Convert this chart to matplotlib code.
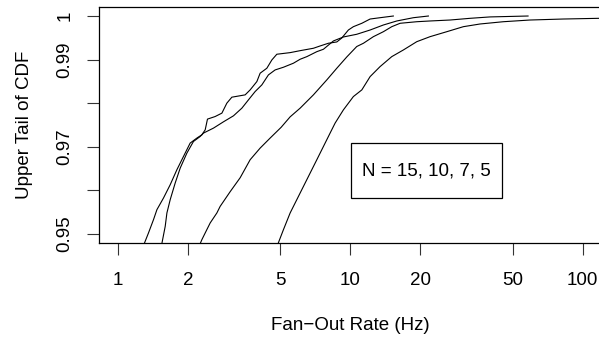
import matplotlib
matplotlib.use("Agg")
import matplotlib.pyplot as plt
from matplotlib.patches import Rectangle

plt.rcParams["font.family"] = ["Liberation Sans", "DejaVu Sans"]

# upper tail of the CDF for four group sizes
rate_n15 = [1.278, 1.354, 1.423, 1.472, 1.571, 1.679, 1.794, 1.915, 2.046, 2.187,
            2.298, 2.375, 2.429, 2.621, 2.802, 2.943, 3.093, 3.528, 3.707, 3.962,
            4.093, 4.374, 4.597, 4.829, 5.510, 6.083, 6.938, 7.416, 8.050, 8.749,
            9.193, 9.813, 10.31, 11.21, 12.17, 13.43, 15.32]
cdf_n15 = [0.94687, 0.95024, 0.95329, 0.95558, 0.95825, 0.9613, 0.96474, 0.96778,
           0.97085, 0.972, 0.97275, 0.9739, 0.97635, 0.97694, 0.97772, 0.98001,
           0.98138, 0.98191, 0.98305, 0.98496, 0.98688, 0.98802, 0.98992, 0.99123,
           0.9916, 0.99205, 0.9926, 0.99313, 0.99375, 0.99405, 0.99496, 0.99679,
           0.99755, 0.99833, 0.99931, 0.99961, 1.0]

rate_n10 = [1.528, 1.598, 1.625, 1.679, 1.764, 1.854, 1.981, 2.114, 2.259, 2.334,
            2.577, 2.846, 3.142, 3.415, 3.645, 3.895, 4.163, 4.443, 4.748, 5.157,
            5.691, 6.083, 6.501, 7.177, 7.661, 8.460, 9.340, 10.66, 12.17, 13.88,
            15.85, 18.68, 21.68]
cdf_n10 = [0.94642, 0.95175, 0.95482, 0.95787, 0.96169, 0.96512, 0.96856, 0.97122,
           0.97236, 0.97314, 0.97428, 0.97573, 0.9771, 0.97886, 0.98076, 0.98267,
           0.9842, 0.98649, 0.98763, 0.98825, 0.98917, 0.99008, 0.99068, 0.99182,
           0.99237, 0.99428, 0.99519, 0.99581, 0.99679, 0.99794, 0.99886, 0.99961, 1.0]

rate_n7 = [2.204, 2.298, 2.414, 2.495, 2.666, 2.754, 3.041, 3.358, 3.707, 4.093,
           4.519, 5.040, 5.510, 6.083, 6.938, 7.923, 8.749, 9.659, 10.66, 11.39,
           12.57, 13.88, 15.08, 16.38, 19.32, 22.04, 26.87, 32.76, 39.94, 58.2]
cdf_n7 = [0.94642, 0.9487, 0.951, 0.95253, 0.95482, 0.95633, 0.9597, 0.9629,
          0.96703, 0.9697, 0.972, 0.97447, 0.97687, 0.97886, 0.98191, 0.98534,
          0.98802, 0.99061, 0.993, 0.99375, 0.99526, 0.9964, 0.99755, 0.99833,
          0.99869, 0.99886, 0.99908, 0.99947, 0.99979, 1.0]

rate_n5 = [4.796, 4.907, 5.157, 5.510, 6.286, 7.177, 8.186, 8.602, 9.340, 10.31,
           11.21, 12.17, 13.43, 15.08, 16.92, 19.32, 22.04, 26.01, 30.65, 36.17,
           45.55, 59.34, 82.52, 117.5, 150.0]
cdf_n5 = [0.94642, 0.94802, 0.951, 0.95482, 0.96091, 0.96703, 0.97314, 0.97543,
          0.97847, 0.98152, 0.98305, 0.9861, 0.98839, 0.99068, 0.99221, 0.99411,
          0.99526, 0.9964, 0.99755, 0.99817, 0.99869, 0.99908, 0.99931, 0.99947,
          0.99958]

x_ticks = [1, 2, 5, 10, 20, 50, 100]
y_ticks = [0.95, 0.96, 0.97, 0.98, 0.99, 1.0]
y_labels = ["0.95", "", "0.97", "", "0.99", "1"]
legend_text = "N = 15, 10, 7, 5"

FS = 13.5

fig = plt.figure(figsize=(5.99, 3.39), dpi=100)
ax = fig.add_axes([0.1658, 0.2841, 0.8380, 0.6944])

for xs, ys in [(rate_n15, cdf_n15), (rate_n10, cdf_n10),
               (rate_n7, cdf_n7), (rate_n5, cdf_n5)]:
    ax.plot(xs, ys, color="black", linewidth=0.8)

ax.set_xscale("log")
# R style 4% padding around xlim = (1, 100), ylim = (0.95, 1)
ax.set_xlim(10 ** -0.08, 10 ** 2.08)
ax.set_ylim(0.95 - 0.002, 1.0 + 0.002)

ax.set_xticks(x_ticks)
ax.set_xticklabels([str(t) for t in x_ticks])
ax.xaxis.set_minor_locator(matplotlib.ticker.NullLocator())
ax.set_yticks(y_ticks)
ax.set_yticklabels(y_labels, rotation=90, va="center")
ax.tick_params(axis="both", length=8.5, width=0.8, labelsize=FS,
               direction="out", color="#333333")
ax.tick_params(axis="x", pad=12.5)
ax.tick_params(axis="y", pad=10)

for sp in ax.spines.values():
    sp.set_linewidth(0.9)

ax.set_xlabel("Fan\u2212Out Rate (Hz)", fontsize=FS, labelpad=20)
ax.set_ylabel("Upper Tail of CDF", fontsize=FS, labelpad=17)

# legend box drawn like R's legend()
ax.add_patch(Rectangle((0.501, 0.188), 0.301, 0.234, transform=ax.transAxes,
                       fill=False, edgecolor="black", linewidth=0.9))
ax.text(0.6515, 0.305, legend_text, transform=ax.transAxes,
        ha="center", va="center", fontsize=FS)

fig.savefig("out.png", dpi=100)
